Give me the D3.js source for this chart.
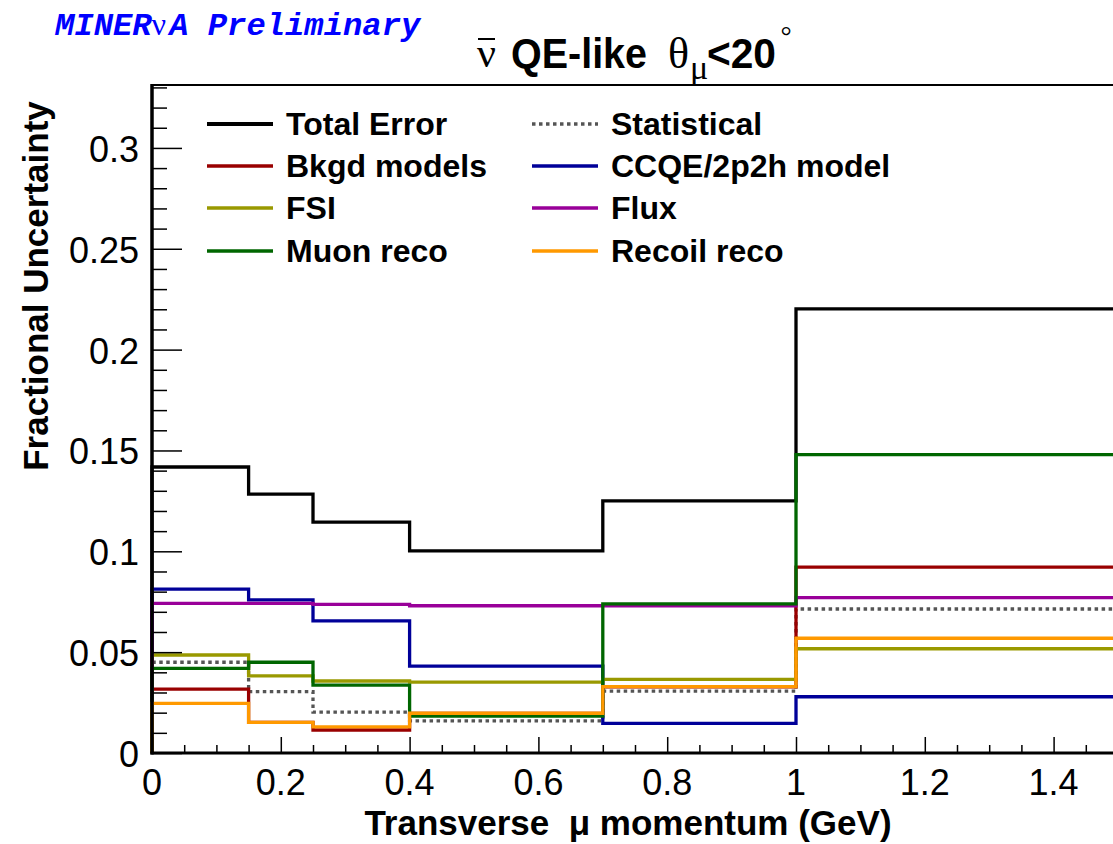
<!DOCTYPE html>
<html>
<head>
<meta charset="utf-8">
<script src="https://cdn.jsdelivr.net/npm/d3@7"></script>
<style>
  html, body { margin: 0; padding: 0; background: #fff; }
  svg { display: block; }
</style>
</head>
<body>
<svg id="chart" width="1113" height="844"></svg>
<script>
// Bin edges in transverse muon momentum (GeV)
const binEdges = [0, 0.15, 0.25, 0.4, 0.7, 1.0, 1.5];

// Fractional uncertainty per bin, one array per error source
const totalError  = [0.1418, 0.1284, 0.1145, 0.1002, 0.1250, 0.2202];
const statistical = [0.0450, 0.0304, 0.0203, 0.0159, 0.0307, 0.0714];
const bkgdModels  = [0.0317, 0.0152, 0.0114, 0.0196, 0.0328, 0.0922];
const ccqeModel   = [0.0813, 0.0759, 0.0655, 0.0431, 0.0147, 0.0279];
const fsi         = [0.0486, 0.0382, 0.0357, 0.0351, 0.0365, 0.0517];
const flux        = [0.0742, 0.0742, 0.0737, 0.0730, 0.0730, 0.0770];
const muonReco    = [0.0420, 0.0450, 0.0337, 0.0183, 0.0739, 0.1479];
const recoilReco  = [0.0246, 0.0152, 0.0130, 0.0197, 0.0329, 0.0569];

const seriesNames = ["Total Error", "Statistical", "Bkgd models", "CCQE/2p2h model",
                     "FSI", "Flux", "Muon reco", "Recoil reco"];
const seriesValues = [totalError, statistical, bkgdModels, ccqeModel, fsi, flux, muonReco, recoilReco];
const seriesColors = ["#000000", "#555555", "#990000", "#000099",
                      "#999900", "#990099", "#006600", "#ff9900"];
const seriesDashed = [false, true, false, false, false, false, false, false];

const xTickValues = [0, 0.2, 0.4, 0.6, 0.8, 1, 1.2, 1.4];
const yTickValues = [0, 0.05, 0.1, 0.15, 0.2, 0.25, 0.3];

const svg = d3.select("#chart");
const plotLeft = 152, plotTop = 85, plotBottom = 753, plotRight = 1118;

const x = d3.scaleLinear().domain([0, 1.5]).range([plotLeft, plotRight]);
const y = d3.scaleLinear().domain([0, 0.3312]).range([plotBottom, plotTop]);

const sans = "'Liberation Sans', Arial, Helvetica, sans-serif";
const serif = "'Liberation Serif', 'Times New Roman', serif";
const mono = "'Liberation Mono', 'Courier New', monospace";

// Step outline of a histogram, dropping to zero at both ends
function histPoints(vals) {
  const pts = [[binEdges[0], 0]];
  vals.forEach((v, i) => pts.push([binEdges[i], v]));
  pts.push([binEdges[binEdges.length - 1], vals[vals.length - 1]]);
  pts.push([binEdges[binEdges.length - 1], 0]);
  return pts;
}
const line = d3.line().x(d => x(d[0])).y(d => y(d[1])).curve(d3.curveStepAfter);

// Histograms
const gHist = svg.append("g");
seriesValues.forEach((vals, i) => {
  gHist.append("path")
    .attr("d", line(histPoints(vals)))
    .attr("fill", "none")
    .attr("stroke", seriesColors[i])
    .attr("stroke-width", 3.3)
    .attr("stroke-linejoin", "miter")
    .attr("stroke-dasharray", seriesDashed[i] ? "3.5,3.5" : null);
});

// Axis frame
svg.append("line").attr("x1", plotLeft).attr("x2", 1113).attr("y1", plotTop).attr("y2", plotTop)
  .attr("stroke", "#000").attr("stroke-width", 2);
svg.append("line").attr("x1", plotLeft).attr("x2", plotLeft).attr("y1", plotTop - 1).attr("y2", plotBottom + 1.5)
  .attr("stroke", "#000").attr("stroke-width", 3.5);
svg.append("line").attr("x1", plotLeft - 1.5).attr("x2", 1113).attr("y1", plotBottom).attr("y2", plotBottom)
  .attr("stroke", "#000").attr("stroke-width", 3);

// Y axis ticks, pointing into the plot
const yAxis = d3.axisRight(y).tickValues(yTickValues).tickSize(30).tickFormat("");
const gy = svg.append("g").attr("transform", `translate(${plotLeft},0)`).call(yAxis);
gy.select(".domain").remove();
gy.selectAll(".tick line").attr("stroke-width", 1.5);
const yMinor = d3.range(0, 34).map(i => i / 100).filter(v => Math.round(v * 100) % 5 !== 0);
const gym = svg.append("g").attr("transform", `translate(${plotLeft},0)`)
  .call(d3.axisRight(y).tickValues(yMinor).tickSize(15).tickFormat(""));
gym.select(".domain").remove();
gym.selectAll(".tick line").attr("stroke-width", 1.5);

// Y tick labels
svg.append("g").selectAll("text").data(yTickValues).join("text")
  .attr("x", 139).attr("y", d => y(d) + 14)
  .attr("text-anchor", "end")
  .attr("font-family", sans).attr("font-size", 36)
  .text(d => String(+d.toFixed(2)));

// X axis ticks, pointing up
const xAxis = d3.axisTop(x).tickValues(xTickValues).tickSize(16).tickFormat("");
const gx = svg.append("g").attr("transform", `translate(0,${plotBottom})`).call(xAxis);
gx.select(".domain").remove();
gx.selectAll(".tick line").attr("stroke-width", 1.5);
const xMinor = d3.range(1, 30).map(i => i * 0.05).filter(v => Math.round(v * 100) % 20 !== 0);
const gxm = svg.append("g").attr("transform", `translate(0,${plotBottom})`)
  .call(d3.axisTop(x).tickValues(xMinor).tickSize(8).tickFormat(""));
gxm.select(".domain").remove();
gxm.selectAll(".tick line").attr("stroke-width", 1.5);

// X tick labels
svg.append("g").selectAll("text").data(xTickValues).join("text")
  .attr("x", d => x(d)).attr("y", plotBottom + 42)
  .attr("text-anchor", "middle")
  .attr("font-family", sans).attr("font-size", 36)
  .text(d => String(+d.toFixed(1)));

// Axis titles
svg.append("text")
  .attr("x", 628).attr("y", 835)
  .attr("text-anchor", "middle")
  .attr("font-family", sans).attr("font-weight", "bold").attr("font-size", 35)
  .attr("xml:space", "preserve")
  .text("Transverse  \u03bc momentum (GeV)");
svg.append("text")
  .attr("transform", "translate(48,286) rotate(-90)")
  .attr("text-anchor", "middle")
  .attr("font-family", sans).attr("font-weight", "bold").attr("font-size", 35)
  .text("Fractional Uncertainty");

// Legend, two columns filled row by row
const legX = [207, 532], legRowY = [124, 166, 208, 251];
const gLeg = svg.append("g");
seriesNames.forEach((name, i) => {
  const cx = legX[i % 2], cy = legRowY[Math.floor(i / 2)];
  gLeg.append("line")
    .attr("x1", cx).attr("x2", cx + 66).attr("y1", cy).attr("y2", cy)
    .attr("stroke", seriesColors[i])
    .attr("stroke-width", i === 0 ? 4 : 3.3)
    .attr("stroke-dasharray", seriesDashed[i] ? "3.5,3.5" : null);
  gLeg.append("text")
    .attr("x", cx + 79).attr("y", cy + 11)
    .attr("font-family", sans).attr("font-weight", "bold").attr("font-size", 32)
    .text(name);
});

// Experiment label
const exp = svg.append("text")
  .attr("x", 55).attr("y", 35)
  .attr("fill", "#0000ff")
  .attr("font-family", mono).attr("font-weight", "bold").attr("font-style", "italic")
  .attr("font-size", 32.2);
exp.append("tspan").text("MINER");
exp.append("tspan").attr("font-family", serif).attr("font-weight", "normal").attr("font-style", "normal").text("\u03bd");
exp.append("tspan").attr("dx", 3).attr("xml:space", "preserve").text("A Preliminary");

// Title: anti-neutrino QE-like, theta_mu < 20 degrees
const nu = svg.append("text")
  .attr("x", 477).attr("y", 67)
  .attr("font-family", serif).attr("font-size", 42)
  .text("\u03bd");
const nb = nu.node().getBBox();
svg.append("line")
  .attr("x1", nb.x + 1).attr("x2", nb.x + nb.width - 1)
  .attr("y1", 39).attr("y2", 39)
  .attr("stroke", "#000").attr("stroke-width", 2);

svg.append("text")
  .attr("x", 511).attr("y", 68)
  .attr("font-family", sans).attr("font-weight", "bold").attr("font-size", 42)
  .attr("textLength", 136).attr("lengthAdjust", "spacingAndGlyphs")
  .text("QE-like");
svg.append("text")
  .attr("x", 668).attr("y", 68)
  .attr("font-family", serif).attr("font-size", 44)
  .text("\u03b8");
svg.append("text")
  .attr("x", 690).attr("y", 79)
  .attr("font-family", serif).attr("font-size", 34)
  .text("\u03bc");
svg.append("text")
  .attr("x", 707).attr("y", 68)
  .attr("font-family", sans).attr("font-weight", "bold").attr("font-size", 42)
  .attr("textLength", 69).attr("lengthAdjust", "spacingAndGlyphs")
  .text("<20");
svg.append("text")
  .attr("x", 786).attr("y", 45)
  .attr("text-anchor", "middle")
  .attr("font-family", serif).attr("font-size", 28)
  .text("\u00b0");
</script>
</body>
</html>
